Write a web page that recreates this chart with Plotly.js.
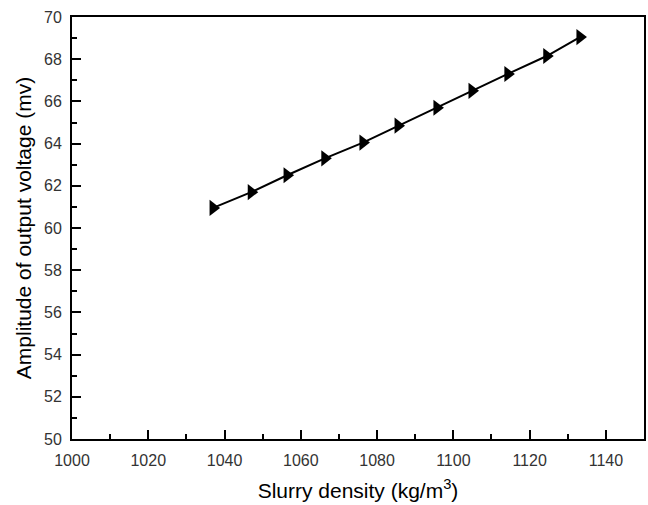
<!DOCTYPE html>
<html><head><meta charset="utf-8">
<script src="https://cdn.plot.ly/plotly-3.0.1.min.js"></script>
<style>html,body{margin:0;padding:0;background:#fff}#chart{width:648px;height:505px}</style>
</head><body><div id="chart"></div>
<script>
const density = [1037, 1047, 1056.4, 1066.3, 1076.3, 1085.5, 1095.7, 1104.9, 1114.3, 1124.5, 1133.2];
const amplitude = [60.95, 61.7, 62.5, 63.3, 64.05, 64.85, 65.7, 66.5, 67.3, 68.15, 69.05];

const trace = {
  x: density, y: amplitude, type: 'scatter', mode: 'lines+markers',
  line: {color: '#000', width: 2},
  marker: {symbol: 'triangle-right', size: 14, color: '#000'}
};
const axisCommon = {
  showgrid: false, zeroline: false, showline: true, linecolor: '#000', linewidth: 2,
  mirror: true, ticks: 'inside', ticklen: 9, tickwidth: 2, tickcolor: '#000',
  tickfont: {family: 'Liberation Sans, Arial', size: 16, color: '#333'}
};
const layout = {
  width: 648, height: 505,
  margin: {l: 72, r: 4, t: 17, b: 66},
  paper_bgcolor: '#fff', plot_bgcolor: '#fff',
  showlegend: false,
  xaxis: Object.assign({}, axisCommon, {
    range: [1000, 1150], tickmode: 'linear', tick0: 1000, dtick: 20,
    ticklabelstandoff: 6,
    minor: {dtick: 10, ticks: 'inside', ticklen: 5, tickwidth: 2, tickcolor: '#000'},
    title: {text: 'Slurry density (kg/m<sup>3</sup>)', font: {family: 'Liberation Sans, Arial', size: 21, color: '#000'}, standoff: 15}
  }),
  yaxis: Object.assign({}, axisCommon, {
    range: [50, 70], tickmode: 'linear', tick0: 50, dtick: 2,
    ticklabelstandoff: 5,
    minor: {dtick: 1, ticks: 'inside', ticklen: 5, tickwidth: 2, tickcolor: '#000'},
    title: {text: 'Amplitude of output voltage (mv)', font: {family: 'Liberation Sans, Arial', size: 21, color: '#000'}, standoff: 7}
  })
};
Plotly.newPlot('chart', [trace], layout, {displayModeBar: false, staticPlot: true});
</script></body></html>
